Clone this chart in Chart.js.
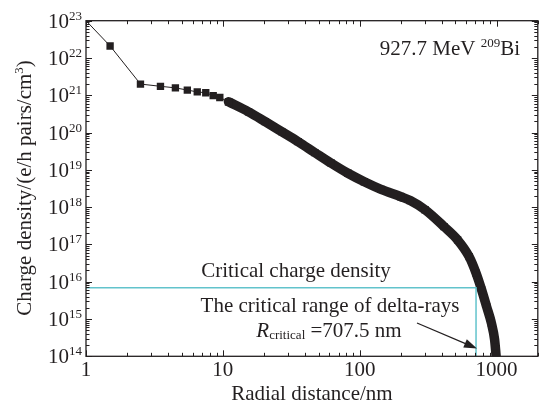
<!DOCTYPE html>
<html lang="en">
<head>
<meta charset="UTF-8">
<title>Charge density vs radial distance</title>
<style>
  html, body { margin: 0; padding: 0; background: #fff; }
  #wrap { width: 543px; height: 405px; }
</style>
</head>
<body>
<div id="wrap"><canvas id="myChart"></canvas></div>

<script src="https://cdn.jsdelivr.net/npm/chart.js"></script>
<script>
  // radial distance (nm) and charge density (e/h pairs/cm^3)
  const radius = [1, 1.5, 2.5, 3.5, 4.5, 5.5, 6.5, 7.5, 8.5, 9.5,
    11, 15.4, 20.4, 26.9, 35.5, 47, 62, 82, 108, 143, 200, 234, 300,
    413, 519, 630, 708, 778, 847, 916, 967, 988, 992];
  const density = [1e23, 2.1e22, 2.0e21, 1.74e21, 1.58e21, 1.38e21, 1.23e21, 1.17e21, 9.8e20, 8.7e20,
    6.7e20, 3.6e20, 1.96e20, 1.06e20, 5.7e19, 2.9e19, 1.5e19, 8.1e18, 4.8e18, 3.0e18, 1.9e18, 1.5e18, 8.5e17,
    3.0e17, 1.32e17, 4.7e16, 1.7e16, 6.0e15, 2.1e15, 7.8e14, 2.8e14, 1.2e14, 1.0e14];

  // the points are resolved as single markers up to about 11 nm, then merge into a band
  const sparseEnd = 10;

  const criticalDensity = 6.9e15;
  const criticalRange = 707.5;

  const xTicks = [1, 10, 100, 1000];
  const yTickExp = [14, 15, 16, 17, 18, 19, 20, 21, 22, 23];

  const INK = '#231f20';
  const SERIF = '"Liberation Serif", "Times New Roman", serif';

  const points = radius.map((r, i) => ({ x: r, y: density[i] }));

  // draw a row of text pieces: [text, size, dy, italic]
  function drawRuns(ctx, parts, x, y, align) {
    let w = 0;
    const widths = parts.map(p => {
      ctx.font = (p[3] ? 'italic ' : '') + p[1] + 'px ' + SERIF;
      const m = ctx.measureText(p[0]).width;
      w += m;
      return m;
    });
    let cx = align === 'right' ? x - w : align === 'center' ? x - w / 2 : x;
    ctx.textAlign = 'left';
    parts.forEach((p, i) => {
      ctx.font = (p[3] ? 'italic ' : '') + p[1] + 'px ' + SERIF;
      ctx.fillText(p[0], cx, y + (p[2] || 0));
      cx += widths[i];
    });
  }

  const decor = {
    id: 'decor',
    afterDraw(chart) {
      const { ctx, chartArea: a, scales: { x, y } } = chart;
      ctx.save();
      ctx.strokeStyle = INK;
      ctx.fillStyle = INK;
      ctx.textBaseline = 'alphabetic';

      // frame
      ctx.lineWidth = 1.3;
      ctx.strokeRect(a.left, a.top, a.right - a.left, a.bottom - a.top);

      // ticks, all pointing inward
      ctx.lineWidth = 1;
      ctx.beginPath();
      for (let d = 1; d <= 1000; d *= 10) {
        for (let k = 1; k <= 9; k++) {
          const v = d * k;
          if (v > x.max) break;
          const px = Math.round(x.getPixelForValue(v)) + 0.5;
          const len = k === 1 ? 6 : 3.5;
          ctx.moveTo(px, a.bottom); ctx.lineTo(px, a.bottom - len);
          ctx.moveTo(px, a.top); ctx.lineTo(px, a.top + len);
        }
      }
      for (let e = 14; e <= 23; e++) {
        for (let k = 1; k <= 9; k++) {
          if (e === 23 && k > 1) break;
          const py = Math.round(y.getPixelForValue(k * Math.pow(10, e))) + 0.5;
          const len = k === 1 ? 6 : 3.5;
          ctx.moveTo(a.left, py); ctx.lineTo(a.left + len, py);
          ctx.moveTo(a.right, py); ctx.lineTo(a.right - len, py);
        }
      }
      ctx.stroke();

      // tick labels
      ctx.textAlign = 'center';
      ctx.font = '21px ' + SERIF;
      xTicks.forEach(v => ctx.fillText(String(v), x.getPixelForValue(v), 376));
      yTickExp.forEach(e => {
        const py = y.getPixelForValue(Math.pow(10, e));
        drawRuns(ctx, [['10', 21, 7], [String(e), 13, -1]], 82, py, 'right');
      });

      // axis titles
      ctx.textAlign = 'center';
      ctx.font = '21px ' + SERIF;
      ctx.fillText('Radial distance/nm', (a.left + a.right) / 2, 400);
      ctx.save();
      ctx.translate(31, 188);
      ctx.rotate(-Math.PI / 2);
      drawRuns(ctx, [['Charge density/(e/h pairs/cm', 21, 0], ['3', 13, -8], [')', 21, 0]], 0, 0, 'center');
      ctx.restore();

      // annotations
      drawRuns(ctx, [['927.7 MeV ', 21, 0], ['209', 13, -8], ['Bi', 21, 0]], 520, 55, 'right');
      drawRuns(ctx, [['Critical charge density', 21, 0]], 296, 277, 'center');
      drawRuns(ctx, [['The critical range of delta-rays', 21, 0]], 330, 312, 'center');
      drawRuns(ctx, [['R', 21, 0, true], ['critical', 13, 2], [' =707.5 nm', 21, 0]], 329, 337, 'center');

      // arrow to the critical range
      const x0 = 417, y0 = 323, x1 = 477, y1 = 348.5;
      const ang = Math.atan2(y1 - y0, x1 - x0);
      ctx.lineWidth = 1.2;
      ctx.beginPath();
      ctx.moveTo(x0, y0);
      ctx.lineTo(x1 - 10 * Math.cos(ang), y1 - 10 * Math.sin(ang));
      ctx.stroke();
      ctx.beginPath();
      ctx.moveTo(x1, y1);
      ctx.lineTo(x1 - 13 * Math.cos(ang) + 4.5 * Math.sin(ang), y1 - 13 * Math.sin(ang) - 4.5 * Math.cos(ang));
      ctx.lineTo(x1 - 13 * Math.cos(ang) - 4.5 * Math.sin(ang), y1 - 13 * Math.sin(ang) + 4.5 * Math.cos(ang));
      ctx.closePath();
      ctx.fill();

      ctx.restore();
    }
  };

  const ctx = document.getElementById('myChart');

  new Chart(ctx, {
    type: 'scatter',
    data: {
      datasets: [{
        label: 'critical',
        data: [
          { x: 1, y: criticalDensity },
          { x: criticalRange, y: criticalDensity },
          { x: criticalRange, y: 1e14 }
        ],
        showLine: true,
        borderColor: '#62c3cc',
        borderWidth: 1.5,
        pointRadius: 0,
        clip: 0
      }, {
        label: '927.7 MeV 209Bi (near core)',
        data: points.slice(0, sparseEnd + 1),
        showLine: true,
        borderColor: INK,
        backgroundColor: INK,
        borderWidth: 1,
        pointStyle: 'rect',
        pointRadius: c => c.dataIndex === 0 ? 0 : 5.2,
        pointBorderWidth: 0,
        clip: 0
      }, {
        label: '927.7 MeV 209Bi',
        data: points.slice(sparseEnd),
        showLine: true,
        borderColor: INK,
        backgroundColor: INK,
        borderWidth: 9.5,
        borderCapStyle: 'round',
        borderJoinStyle: 'round',
        cubicInterpolationMode: 'monotone',
        pointStyle: 'rect',
        pointRadius: 5.2,
        pointBorderWidth: 0,
        clip: 0
      }]
    },
    options: {
      responsive: true,
      maintainAspectRatio: false,
      animation: false,
      events: [],
      layout: { padding: { top: 20.7, right: 2, left: 0, bottom: 0 } },
      plugins: {
        legend: { display: false },
        tooltip: { enabled: false }
      },
      scales: {
        x: {
          type: 'logarithmic',
          min: 1,
          max: 2000,
          ticks: { display: false },
          grid: { display: false },
          border: { display: false },
          afterFit: s => { s.height = 48.7; }
        },
        y: {
          type: 'logarithmic',
          min: 1e14,
          max: 1e23,
          ticks: { display: false },
          grid: { display: false },
          border: { display: false },
          afterFit: s => { s.width = 86; }
        }
      }
    },
    plugins: [decor]
  });
</script>
</body>
</html>
